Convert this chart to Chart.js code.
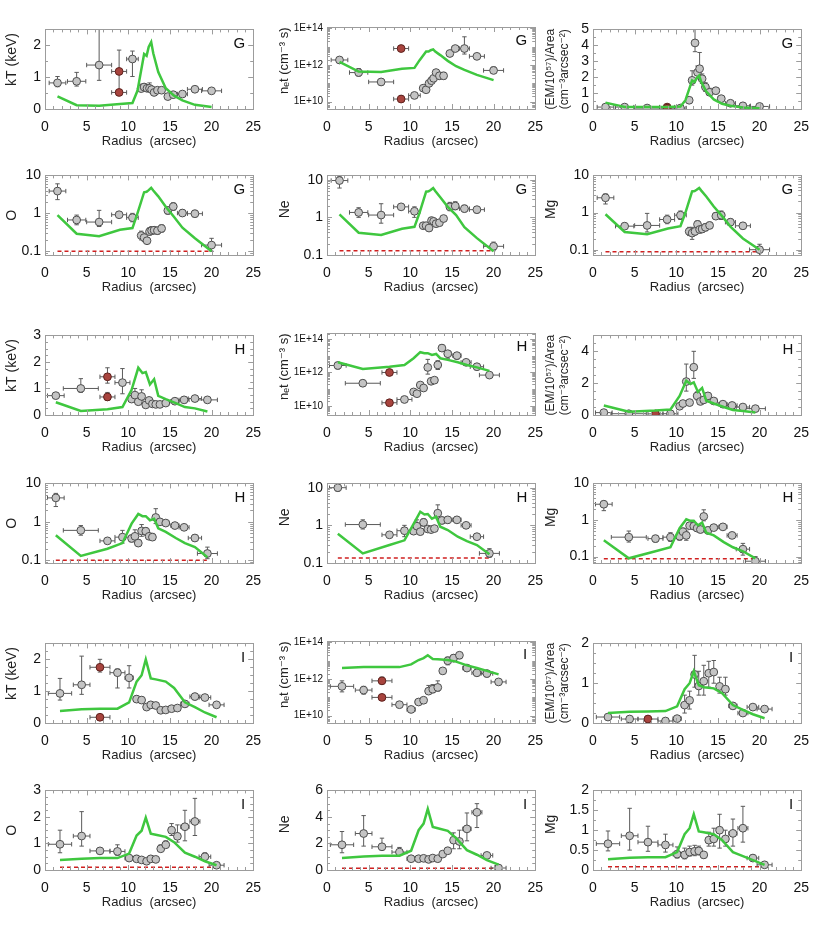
<!DOCTYPE html>
<html>
<head>
<meta charset="utf-8">
<script src="https://cdn.jsdelivr.net/npm/chart.js@4.4.1/dist/chart.umd.min.js"></script>
<style>
  body { margin: 0; background: #fff; }
  #fig { position: relative; width: 830px; height: 939px; }
  #fig canvas { position: absolute; }
</style>
</head>
<body>
<div id="fig"></div>
<script>
// ---------- shared axis values ----------
const radiusTicks = [0, 5, 10, 15, 20, 25];
const netTicks = [1e10, 1e12, 1e14];
const abundTicks = [0.1, 1, 10];

// ---------- region G ----------
const G_radius = [1.5, 3.8, 6.5, 8.9, 10.5, 11.55, 11.9, 12.25, 12.55, 12.8, 13.1, 13.5, 14.0, 14.75, 15.4, 16.5, 18.0, 20.0];
const G_halfWidth = [1.0, 1.1, 1.5, 0.9, 0.7, 0.2, 0.2, 0.15, 0.15, 0.15, 0.2, 0.2, 0.3, 0.35, 0.4, 0.6, 0.9, 1.2];
const G_kT = [0.82, 0.87, 1.38, null, 1.57, 0.64, 0.69, 0.65, 0.65, 0.61, 0.52, 0.59, 0.59, 0.39, 0.45, 0.47, 0.62, 0.57];
const G_kT_err = [[0.70,1.02],[0.72,1.15],[0.90,2.50],null,[1.02,1.82],[0.55,0.78],[0.58,0.80],[0.55,0.75],[0.55,0.82],[0.52,0.70],[0.46,0.60],[0.52,0.66],[0.52,0.66],[0.34,0.45],[0.40,0.50],[0.42,0.52],[0.56,0.68],[0.52,0.62]];
const G_net = [1.9e12, 3.9e11, 1.2e11, null, 2.2e10, 5.5e10, 4.5e10, 1.0e11, 1.4e11, 1.9e11, 3.9e11, 2.6e11, 2.6e11, 4.3e12, 8.0e12, 8.0e12, 3.0e12, 5.1e11];
const G_net_err = [[1.3e12,2.7e12],[2.5e11,6.5e11],[0.8e11,1.7e11],null,[1.8e10,2.6e10],[4.5e10,7e10],[3.5e10,5.5e10],[7e10,1.4e11],[1e11,2.2e11],[1.4e11,2.7e11],[2.8e11,5.5e11],[1.7e11,4e11],[1.7e11,4e11],[3e12,6e12],[5.5e12,1.1e13],[4e12,3.5e13],[2e12,4e12],[3.5e11,8e11]];
const G_EM = [0.12, 0.12, 0.06, null, 0.06, 0.55, 1.8, 4.15, 2.3, 2.53, 1.9, 1.38, 1.05, 1.15, 0.65, 0.36, 0.2, 0.16];
const G_EM_err = [[0.05,0.2],[0.08,0.16],[0.03,0.1],null,[0.03,0.1],[0.4,0.7],[1.5,2.4],[3.6,5.0],[1.9,2.7],[2.2,3.55],[1.6,2.2],[1.1,1.65],[0.85,1.3],[0.95,1.35],[0.55,0.78],[0.3,0.42],[0.15,0.25],[0.12,0.2]];
const G_O = [3.86, 0.67, 0.59, 0.92, 0.77, 0.26, 0.23, 0.19, 0.33, 0.35, 0.36, 0.35, 0.40, 1.19, 1.51, 1.02, 0.98, 0.146];
const G_O_err = [[2.3,6.0],[0.5,0.9],[0.45,1.2],[0.8,1.05],[0.6,1.0],[0.2,0.34],[0.18,0.29],[0.16,0.23],[0.27,0.42],[0.28,0.45],[0.29,0.44],[0.28,0.43],[0.32,0.5],[0.95,1.5],[1.2,1.9],[0.85,1.25],[0.8,1.2],[0.1,0.22]];
const G_Ne = [9.5, 1.35, 1.15, 1.9, 1.45, 0.6, 0.6, 0.52, 0.82, 0.78, 0.68, 0.72, 0.93, 1.9, 2.0, 1.7, 1.6, 0.17];
const G_Ne_err = [[6,12],[1.0,1.8],[0.7,2.3],[1.7,2.1],[1.0,1.9],[0.5,0.72],[0.5,0.72],[0.43,0.62],[0.68,1.0],[0.64,0.95],[0.56,0.82],[0.6,0.87],[0.78,1.1],[1.5,2.5],[1.6,2.6],[1.4,2.1],[1.3,1.9],[0.13,0.22]];
const G_Mg = [2.5, 0.43, 0.45, 0.65, 0.85, 0.31, 0.28, 0.31, 0.48, 0.35, 0.36, 0.40, 0.45, 0.8, 0.85, 0.55, 0.44, 0.1];
const G_Mg_err = [[1.7,3.2],[0.36,0.52],[0.3,0.95],[0.5,0.85],[0.65,1.1],[0.24,0.4],[0.19,0.4],[0.25,0.38],[0.38,0.6],[0.28,0.44],[0.29,0.45],[0.32,0.5],[0.37,0.55],[0.65,1.0],[0.65,1.1],[0.45,0.68],[0.36,0.54],[0.07,0.14]];
// second (hot) component, red points
const G_redRadius = 8.9, G_redHalf = 0.9;
const G_red_kT = [1.18, 0.52], G_red_kT_err = [[0.6,1.85],[0.45,0.6]];
const G_red_net = [8e12, 1.4e10], G_red_net_err = [[5.5e12,1.2e13],[1e10,2.2e10]];
const G_red_EM = [0.12, 0.05], G_red_EM_err = [[0.05,0.2],[0.02,0.08]];
// model (green)
const G_modelR = [1.5, 3.8, 6.5, 9.0, 10.5, 11.1, 11.9, 12.2, 12.45, 12.75, 13.0, 13.6, 14.5, 15.5, 16.5, 18.0, 20.0];
const G_kT_model = [0.40, 0.12, 0.10, 0.16, 0.19, 0.57, 1.73, 1.67, 1.95, 2.10, 1.75, 1.16, 0.65, 0.42, 0.27, 0.13, 0.06];
const G_net_model = [1.5e12, 4.4e11, 4.2e11, 6.3e11, 7.0e11, 1.8e12, 5.5e12, 5.5e12, 6.5e12, 7.2e12, 5.5e12, 3.5e12, 1.7e12, 8.7e11, 5.5e11, 2.9e11, 1.5e11];
const G_EM_model = [0.40, 0.12, 0.12, 0.12, 0.16, 0.55, 1.80, 1.70, 1.94, 2.10, 1.70, 1.10, 0.60, 0.33, 0.20, 0.10, 0.04];
const G_O_model = [0.90, 0.29, 0.25, 0.37, 0.41, 1.00, 3.60, 3.70, 4.10, 4.70, 4.00, 2.80, 1.50, 0.80, 0.42, 0.22, 0.10];
const G_Ne_model = [1.20, 0.39, 0.34, 0.50, 0.56, 1.30, 4.80, 4.90, 5.30, 6.00, 5.00, 3.40, 1.90, 1.15, 0.55, 0.28, 0.125];
const G_Mg_model = [0.90, 0.30, 0.26, 0.37, 0.43, 1.00, 3.70, 3.80, 4.10, 4.60, 3.90, 2.70, 1.45, 0.80, 0.42, 0.20, 0.10];
const G_floor = { O: 0.1, Ne: 0.13, Mg: 0.088, from: 1.5, to: 20.0 };

// ---------- region H ----------
const H_radius = [1.3, 4.3, 7.5, 9.3, 10.4, 10.8, 11.2, 11.6, 12.1, 12.5, 12.9, 13.3, 13.8, 14.5, 15.6, 16.7, 18.0, 19.5];
const H_halfWidth = [1.0, 2.1, 0.9, 0.9, 0.25, 0.2, 0.2, 0.2, 0.2, 0.2, 0.2, 0.25, 0.3, 0.4, 0.5, 0.6, 0.8, 1.2];
const H_kT = [0.73, 1.0, null, 1.22, 0.6, 0.75, 0.5, 0.7, 0.38, 0.55, 0.42, 0.4, 0.4, 0.45, 0.52, 0.57, 0.62, 0.57];
const H_kT_err = [[0.65,0.8],[0.85,1.37],null,[0.8,1.75],[0.5,0.72],[0.6,1.0],[0.42,0.6],[0.55,0.95],[0.32,0.45],[0.45,0.65],[0.35,0.5],[0.34,0.47],[0.34,0.47],[0.39,0.52],[0.46,0.58],[0.5,0.64],[0.55,0.7],[0.5,0.64]];
const H_net = [2.6e12, 2.3e11, null, 2.5e10, 7e10, 5.5e10, 1.8e11, 1.2e11, 2e12, 3.0e11, 3.5e11, 2.8e12, 2.8e13, 1.3e13, 1.0e13, 4e12, 2.2e12, 7e11];
const H_net_err = [[1.6e12,4e12],[1.5e11,3.5e11],null,[1.8e10,3.5e10],[5e10,1e11],[4e10,8e10],[1.3e11,2.5e11],[0.9e11,1.6e11],[8e11,6e12],[2e11,4.5e11],[2.5e11,5e11],[1.5e12,5e12],[1.8e13,4.5e13],[7e12,2e13],[6e12,1.4e13],[2.8e12,5.5e12],[1.4e12,3.2e12],[5e11,1e12]];
const H_EM = [0.15, 0.08, null, 0.08, 0.55, 0.72, 2.1, 0.78, 3.0, 1.2, 0.85, 0.95, 1.2, 0.88, 0.68, 0.6, 0.5, 0.4];
const H_EM_err = [[0.1,0.2],[0.04,0.12],null,[0.04,0.12],[0.4,0.7],[0.55,0.9],[1.5,3.2],[0.6,0.95],[2.3,4.0],[0.95,1.45],[0.7,1.0],[0.8,1.1],[1.0,1.4],[0.75,1.0],[0.58,0.78],[0.52,0.68],[0.43,0.57],[0.34,0.46]];
const H_O = [4.2, 0.6, 0.32, 0.4, 0.37, 0.42, 0.28, 0.58, 0.57, 0.42, 0.40, 1.3, 1.0, 0.93, 0.8, 0.72, 0.38, 0.15];
const H_O_err = [[2.5,5.5],[0.45,0.8],[0.27,0.38],[0.28,0.6],[0.3,0.45],[0.33,0.62],[0.23,0.34],[0.42,0.85],[0.45,0.7],[0.35,0.5],[0.33,0.5],[0.9,2.2],[0.85,1.2],[0.8,1.1],[0.68,0.95],[0.6,0.85],[0.32,0.46],[0.11,0.22]];
const H_Ne = [10, 1.05, 0.56, 0.72, 0.7, 0.95, 0.68, 1.2, 0.8, 0.77, 0.82, 2.1, 1.35, 1.4, 1.4, 1.0, 0.5, 0.18];
const H_Ne_err = [[8,11],[0.8,1.4],[0.5,0.64],[0.5,1.0],[0.6,0.85],[0.75,1.4],[0.58,0.8],[0.95,1.5],[0.68,0.95],[0.65,0.9],[0.7,0.96],[1.5,3.5],[1.1,1.65],[1.15,1.7],[1.2,1.65],[0.85,1.15],[0.42,0.6],[0.14,0.24]];
const H_Mg = [2.7, 0.34, 0.31, 0.34, 0.36, 0.48, 0.38, 0.7, 0.68, 0.6, 0.55, 1.25, 0.52, 0.62, 0.65, 0.38, 0.16, 0.075];
const H_Mg_err = [[1.8,3.3],[0.25,0.5],[0.25,0.38],[0.26,0.45],[0.28,0.46],[0.38,0.6],[0.28,0.5],[0.58,0.85],[0.56,0.82],[0.5,0.72],[0.45,0.66],[0.95,1.9],[0.42,0.64],[0.52,0.75],[0.55,0.78],[0.32,0.46],[0.11,0.23],[0.055,0.1]];
const H_redRadius = 7.5, H_redHalf = 0.9;
const H_red_kT = [1.44, 0.68], H_red_kT_err = [[1.2,1.78],[0.55,0.85]];
const H_red_net = [1e12, 1.6e10], H_red_net_err = [[7e11,1.4e12],[1.2e10,2.1e10]];
const H_red_EM = [0.07], H_red_EM_err = [[0.03,0.11]];
const H_modelR = [1.3, 4.3, 7.5, 9.3, 10.4, 11.2, 11.7, 12.1, 12.6, 13.1, 13.6, 14.5, 15.7, 16.8, 18.0, 19.5];
const H_kT_model = [0.48, 0.15, 0.22, 0.30, 0.95, 1.78, 1.58, 1.62, 1.15, 1.35, 0.72, 0.60, 0.45, 0.30, 0.25, 0.13];
const H_net_model = [4.0e12, 1.6e12, 2.2e12, 2.8e12, 7.0e12, 1.6e13, 1.4e13, 1.4e13, 1.1e13, 1.25e13, 7.0e12, 5.6e12, 4.0e12, 2.8e12, 2.0e12, 1.25e12];
const H_EM_model = [0.60, 0.20, 0.28, 0.35, 1.20, 2.15, 1.95, 2.05, 1.45, 1.70, 0.90, 0.72, 0.50, 0.32, 0.25, 0.15];
const H_O_model = [0.45, 0.13, 0.20, 0.28, 0.90, 1.60, 1.40, 1.40, 1.10, 1.20, 0.68, 0.55, 0.38, 0.28, 0.22, 0.12];
const H_Ne_model = [0.60, 0.18, 0.30, 0.40, 1.10, 2.30, 1.95, 2.00, 1.50, 1.70, 0.92, 0.75, 0.50, 0.38, 0.30, 0.17];
const H_Mg_model = [0.28, 0.09, 0.14, 0.18, 0.60, 1.05, 0.95, 0.95, 0.72, 0.85, 0.45, 0.38, 0.25, 0.18, 0.14, 0.09];
const H_floor = { O: 0.1, Ne: 0.135, Mg: 0.088, from: 1.3, to: 19.5 };

// ---------- region I ----------
const I_radius = [1.8, 4.4, 6.6, 8.7, 10.1, 11.0, 11.6, 12.2, 12.7, 13.3, 13.9, 14.5, 15.2, 15.9, 16.8, 18.0, 19.2, 20.6];
const I_halfWidth = [1.4, 1.0, 1.2, 0.9, 0.5, 0.4, 0.3, 0.3, 0.3, 0.3, 0.3, 0.3, 0.35, 0.35, 0.5, 0.6, 0.7, 0.9];
const I_kT = [0.93, 1.2, null, 1.58, 1.42, 0.75, 0.72, 0.5, 0.57, 0.55, 0.4, 0.41, 0.45, 0.47, 0.6, 0.83, 0.8, 0.57];
const I_kT_err = [[0.72,1.4],[0.9,2.1],null,[1.1,1.7],[1.1,1.8],[0.65,0.85],[0.62,0.82],[0.44,0.57],[0.48,0.66],[0.47,0.63],[0.35,0.45],[0.36,0.46],[0.4,0.5],[0.42,0.53],[0.54,0.67],[0.73,0.93],[0.72,0.88],[0.5,0.64]];
const I_net = [4e11, 2.5e11, null, 4e10, 2.2e10, 5.6e10, 7e10, 2.2e11, 2.8e11, 3.5e11, 2.8e12, 1e13, 1.4e13, 2e13, 4e12, 2.2e12, 2e12, 7e11];
const I_net_err = [[2e11,8e11],[1.5e11,4e11],null,[3.2e10,5e10],[1.7e10,2.8e10],[4.5e10,7e10],[5.5e10,9e10],[1.6e11,4.5e11],[1.8e11,5e11],[2.2e11,8e11],[2e12,4e12],[6e12,1.6e13],[9e12,2.2e13],[1.3e13,2.8e13],[2.8e12,5.5e12],[1.5e12,3.2e12],[1.3e12,3e12],[5e11,9e11]];
const I_EM = [0.15, 0.1, null, 0.05, 0.11, 0.45, 0.57, 1.22, 0.93, 1.05, 1.25, 1.28, 0.92, 0.85, 0.43, 0.25, 0.4, 0.35];
const I_EM_err = [[0.1,0.2],[0.06,0.14],null,[0.03,0.08],[0.07,0.16],[0.25,0.7],[0.35,0.8],[0.9,1.7],[0.7,1.3],[0.7,1.45],[0.9,1.55],[1.0,1.57],[0.75,1.15],[0.7,1.15],[0.35,0.5],[0.2,0.3],[0.34,0.46],[0.3,0.4]];
const I_O = [0.97, 1.28, 0.72, 0.7, 0.45, 0.42, 0.38, 0.33, 0.42, 0.4, 0.8, 0.95, 1.5, 1.27, 1.63, 1.83, 0.5, 0.18];
const I_O_err = [[0.65,1.5],[0.9,2.2],[0.65,0.8],[0.55,0.95],[0.38,0.55],[0.35,0.55],[0.3,0.48],[0.27,0.42],[0.35,0.52],[0.33,0.5],[0.7,0.95],[0.85,1.1],[1.3,1.75],[1.05,1.7],[1.1,2.25],[1.3,2.7],[0.42,0.65],[0.13,0.25]];
const I_Ne = [1.9, 2.75, 1.75, 1.35, 0.85, 0.85, 0.88, 0.8, 0.9, 0.85, 1.2, 1.45, 2.25, 2.15, 3.1, 4.35, 1.1, 0.15];
const I_Ne_err = [[1.3,2.9],[1.8,4.1],[1.5,2.4],[1.2,1.7],[0.7,1.0],[0.7,1.0],[0.75,1.05],[0.68,0.95],[0.75,1.05],[0.7,1.0],[1.0,1.4],[1.25,1.7],[1.6,2.8],[1.6,3.0],[2.2,4.3],[3.2,5.0],[0.95,1.3],[0.05,0.3]];
const I_Mg = [0.66, 0.86, 0.7, 0.63, 0.4, 0.38, 0.45, 0.47, 0.48, 0.38, 0.75, 0.78, 1.0, 0.78, 0.92, 1.05, 0.3, 0.13];
const I_Mg_err = [[0.48,0.98],[0.5,1.55],[0.47,1.1],[0.45,0.9],[0.3,0.58],[0.28,0.55],[0.35,0.6],[0.36,0.62],[0.38,0.6],[0.3,0.43],[0.6,0.95],[0.6,1.05],[0.55,1.4],[0.6,1.0],[0.6,1.28],[0.7,1.6],[0.24,0.38],[0.1,0.17]];
const I_redRadius = 6.6, I_redHalf = 1.2;
const I_red_kT = [1.75, 0.18], I_red_kT_err = [[1.6,2.0],[0.14,0.22]];
const I_red_net = [8e11, 1e11], I_red_net_err = [[5.5e11,1.3e12],[8e10,1.3e11]];
const I_red_EM = [0.1], I_red_EM_err = [[0.06,0.14]];
const I_modelR = [1.8, 4.4, 6.6, 8.7, 10.1, 11.0, 11.6, 12.1, 12.7, 13.3, 14.5, 15.5, 16.8, 18.0, 19.2, 20.6];
const I_kT_model = [0.38, 0.43, 0.45, 0.45, 0.65, 1.30, 1.50, 2.00, 1.40, 1.37, 1.30, 1.10, 0.65, 0.50, 0.33, 0.18];
const I_net_model = [4e12, 4.5e12, 4.5e12, 4.5e12, 6.3e12, 1.1e13, 1.4e13, 2e13, 1.25e13, 1.2e13, 1.1e13, 9e12, 5.6e12, 4e12, 2.8e12, 1.8e12];
const I_EM_model = [0.25, 0.28, 0.29, 0.30, 0.42, 0.85, 1.00, 1.30, 0.95, 0.90, 0.87, 0.75, 0.45, 0.33, 0.22, 0.12];
const I_O_model = [0.38, 0.42, 0.45, 0.45, 0.62, 1.30, 1.48, 1.97, 1.37, 1.33, 1.25, 1.05, 0.65, 0.50, 0.33, 0.18];
const I_Ne_model = [0.90, 1.02, 1.07, 1.08, 1.45, 3.00, 3.50, 4.60, 3.25, 3.15, 2.95, 2.40, 1.50, 1.15, 0.75, 0.40];
const I_Mg_model = [0.27, 0.31, 0.32, 0.32, 0.45, 0.90, 1.05, 1.40, 0.97, 0.95, 0.90, 0.75, 0.45, 0.35, 0.25, 0.13];
const I_floor = { O: 0.1, Ne: 0.13, Mg: 0.08, from: 1.8, to: 20.6 };

// ---------- layout ----------
const FONT = "'Liberation Sans', Arial, 'DejaVu Sans', sans-serif";
const BOX_W = 214, BOX_H = 84, PAD_TOP = 8, PAD_RIGHT = 12, X_AXIS_H = 43;
const colLeft = [45, 327, 593];
const rowTop = [25, 171, 331, 479, 639, 786];
const yAxisW = [45, 50, 52];
const yTitlePad = [4, 0, 2];
const fig = document.getElementById('fig');

const pts = (r, half, v, err) =>
  r.map((x, i) => v[i] == null ? null : { x, y: v[i], lo: err[i][0], hi: err[i][1], h: half[i] }).filter(Boolean);
const redPts = (r, h, v, err) => pts(v.map(() => r), v.map(() => h), v, err);
const sci = v => '1E+' + Math.round(Math.log10(v));

// error bars drawn under each point set
const errorBars = {
  id: 'errorBars',
  beforeDatasetDraw(chart, args) {
    const ds = chart.data.datasets[args.index];
    if (!ds.errorBars) return;
    const { ctx, chartArea: a, scales: { x, y } } = chart;
    ctx.save();
    ctx.beginPath();
    ctx.rect(a.left, a.top, a.width, a.height);
    ctx.clip();
    ctx.strokeStyle = '#5a5a5a';
    ctx.lineWidth = 1;
    ctx.beginPath();
    const c = 2.2;
    for (const d of ds.data) {
      const px = x.getPixelForValue(d.x), py = y.getPixelForValue(d.y);
      const x0 = x.getPixelForValue(d.x - d.h), x1 = x.getPixelForValue(d.x + d.h);
      const y0 = y.getPixelForValue(d.lo), y1 = y.getPixelForValue(d.hi);
      ctx.moveTo(x0, py); ctx.lineTo(x1, py);
      ctx.moveTo(x0, py - c); ctx.lineTo(x0, py + c);
      ctx.moveTo(x1, py - c); ctx.lineTo(x1, py + c);
      ctx.moveTo(px, y0); ctx.lineTo(px, y1);
      ctx.moveTo(px - c, y0); ctx.lineTo(px + c, y0);
      ctx.moveTo(px - c, y1); ctx.lineTo(px + c, y1);
    }
    ctx.stroke();
    ctx.restore();
  }
};

function panel(row, col, cfg) {
  const w = yAxisW[col] + BOX_W + PAD_RIGHT, h = PAD_TOP + BOX_H + X_AXIS_H;
  const cv = document.createElement('canvas');
  cv.width = w; cv.height = h;
  cv.style.left = (colLeft[col] - yAxisW[col]) + 'px';
  cv.style.top = (rowTop[row] - PAD_TOP) + 'px';
  cv.style.width = w + 'px'; cv.style.height = h + 'px';
  fig.appendChild(cv);

  // minor tick positions for the frame
  const yMinor = [];
  if (cfg.log) {
    for (let k = Math.floor(Math.log10(cfg.min)); k <= Math.ceil(Math.log10(cfg.max)); k++)
      for (let m = 1; m < 10; m++) { const v = m * Math.pow(10, k); if (v >= cfg.min && v <= cfg.max) yMinor.push(v); }
  } else {
    for (let v = cfg.min; v <= cfg.max + 1e-9; v += cfg.minor) yMinor.push(v);
  }

  const frame = {
    id: 'frame',
    afterDraw(chart) {
      const { ctx, chartArea: a, scales: { x, y } } = chart;
      ctx.save();
      ctx.strokeStyle = '#9c9c9c';
      ctx.lineWidth = 1;
      ctx.strokeRect(Math.round(a.left) + 0.5, Math.round(a.top) + 0.5, Math.round(a.width), Math.round(a.height));
      ctx.beginPath();
      for (let v = 0; v <= 25; v++) {
        const px = Math.round(x.getPixelForValue(v)) + 0.5, len = v % 5 === 0 ? 5 : 3;
        ctx.moveTo(px, a.bottom); ctx.lineTo(px, a.bottom - len);
        ctx.moveTo(px, a.top); ctx.lineTo(px, a.top + len);
      }
      const major = new Set(cfg.ticks);
      for (const v of yMinor) {
        const py = Math.round(y.getPixelForValue(v)) + 0.5, len = major.has(v) ? 5 : 3;
        ctx.moveTo(a.left, py); ctx.lineTo(a.left + len, py);
        ctx.moveTo(a.right, py); ctx.lineTo(a.right - len, py);
      }
      ctx.stroke();
      ctx.fillStyle = '#111';
      ctx.font = '15px ' + FONT;
      ctx.textAlign = 'right';
      ctx.textBaseline = 'middle';
      ctx.fillText(cfg.letter, a.right - 8, a.top + 14);
      ctx.restore();
    }
  };

  const datasets = [{
    type: 'line', data: cfg.modelR.map((x, i) => ({ x, y: cfg.model[i] })),
    borderColor: '#3fc73f', borderWidth: 2.5, pointRadius: 0, showLine: true, tension: 0, fill: false
  }];
  if (cfg.red) datasets.push({
    data: cfg.red, errorBars: true, pointRadius: 3.9,
    backgroundColor: '#a8443e', borderColor: '#5e211d', borderWidth: 1
  });
  datasets.push({
    data: cfg.grey, errorBars: true, pointRadius: 3.9,
    backgroundColor: '#c4c4c4', borderColor: '#4d4d4d', borderWidth: 1
  });
  if (cfg.floor) datasets.push({
    type: 'line', data: [{ x: cfg.floor[1], y: cfg.floor[0] }, { x: cfg.floor[2], y: cfg.floor[0] }],
    borderColor: '#d02020', borderDash: [4, 3], borderWidth: 1.5, pointRadius: 0, showLine: true
  });

  new Chart(cv, {
    type: 'scatter',
    data: { datasets },
    options: {
      responsive: false,
      animation: false,
      events: [],
      layout: { padding: { top: PAD_TOP, right: PAD_RIGHT, left: 0, bottom: 0 } },
      plugins: { legend: { display: false }, tooltip: { enabled: false } },
      scales: {
        x: {
          type: 'linear', min: 0, max: 25,
          afterBuildTicks: s => { s.ticks = radiusTicks.map(value => ({ value })); },
          afterFit: s => { s.height = X_AXIS_H; },
          grid: { display: false, drawTicks: false },
          border: { display: false },
          ticks: { font: { family: FONT, size: 14 }, color: '#111', padding: 10, maxRotation: 0, autoSkip: false, callback: v => String(v) },
          title: { display: true, text: 'Radius  (arcsec)', font: { family: FONT, size: 13 }, color: '#222', padding: { top: 0, bottom: 3 } }
        },
        y: {
          type: cfg.log ? 'logarithmic' : 'linear', min: cfg.min, max: cfg.max,
          afterBuildTicks: s => { s.ticks = cfg.ticks.map(value => ({ value })); },
          afterFit: s => { s.width = yAxisW[col]; },
          grid: { display: false, drawTicks: false },
          border: { display: false },
          ticks: { font: { family: FONT, size: cfg.tickSize || 14 }, color: '#111', padding: 4, autoSkip: false, callback: cfg.fmt || (v => String(v)) },
          title: { display: true, text: cfg.title, font: { family: FONT, size: cfg.titleSize || 14 }, color: '#222', padding: { top: yTitlePad[col], bottom: 0 } }
        }
      }
    },
    plugins: [errorBars, frame]
  });
}

const lift = (s, n) => ' '.repeat(n) + s;
const KT = lift('kT (keV)', 5);
const NET = lift('n\u2091t (cm\u207B\u00B3 s)', 4);
const EMT = ['(EM/10\u2075\u2077)/Area', '(cm\u207B\u00B3arcsec\u207B\u00B2)'];

const regions = [
  { L: 'G', r: G_radius, hw: G_halfWidth, rr: G_redRadius, rh: G_redHalf, mR: G_modelR, fl: G_floor,
    kT: [G_kT, G_kT_err, G_red_kT, G_red_kT_err, G_kT_model], net: [G_net, G_net_err, G_red_net, G_red_net_err, G_net_model],
    EM: [G_EM, G_EM_err, G_red_EM, G_red_EM_err, G_EM_model],
    O: [G_O, G_O_err, G_O_model], Ne: [G_Ne, G_Ne_err, G_Ne_model], Mg: [G_Mg, G_Mg_err, G_Mg_model],
    ax: { kT: [0, 2.5, [0, 1, 2], 0.5], net: [4e9, 1.2e14], EM: [0, 5, [0, 1, 2, 3, 4, 5], 0.5],
          O: [0.08, 10], Ne: [0.1, 13], Mg: [0.072, 10] } },
  { L: 'H', r: H_radius, hw: H_halfWidth, rr: H_redRadius, rh: H_redHalf, mR: H_modelR, fl: H_floor,
    kT: [H_kT, H_kT_err, H_red_kT, H_red_kT_err, H_kT_model], net: [H_net, H_net_err, H_red_net, H_red_net_err, H_net_model],
    EM: [H_EM, H_EM_err, H_red_EM, H_red_EM_err, H_EM_model],
    O: [H_O, H_O_err, H_O_model], Ne: [H_Ne, H_Ne_err, H_Ne_model], Mg: [H_Mg, H_Mg_err, H_Mg_model],
    ax: { kT: [0, 3, [0, 1, 2, 3], 0.25], net: [3e9, 2.2e14], EM: [0, 5, [0, 2, 4], 0.5],
          O: [0.085, 10], Ne: [0.1, 13], Mg: [0.067, 10] } },
  { L: 'I', r: I_radius, hw: I_halfWidth, rr: I_redRadius, rh: I_redHalf, mR: I_modelR, fl: I_floor,
    kT: [I_kT, I_kT_err, I_red_kT, I_red_kT_err, I_kT_model], net: [I_net, I_net_err, I_red_net, I_red_net_err, I_net_model],
    EM: [I_EM, I_EM_err, I_red_EM, I_red_EM_err, I_EM_model],
    O: [I_O, I_O_err, I_O_model], Ne: [I_Ne, I_Ne_err, I_Ne_model], Mg: [I_Mg, I_Mg_err, I_Mg_model],
    ax: { kT: [0, 2.5, [0, 1, 2], 0.25], net: [4e9, 1.2e14], EM: [0, 2, [0, 1, 2], 0.25],
          O: [0, 3, [0, 1, 2, 3], 0.25], Ne: [0, 6, [0, 2, 4, 6], 0.5], Mg: [0, 2, [0, 0.5, 1, 1.5, 2], 0.25] } }
];

regions.forEach((g, k) => {
  const top = k * 2, bot = k * 2 + 1;
  // temperature, ionisation age, emission measure
  [['kT', KT], ['net', NET], ['EM', EMT]].forEach(([q, title], col) => {
    const [v, e, rv, re, m] = g[q];
    const a = g.ax[q];
    const base = { letter: g.L, title, modelR: g.mR, model: m,
      grey: pts(g.r, g.hw, v, e), red: redPts(g.rr, g.rh, rv, re) };
    if (q === 'net') Object.assign(base, { log: true, min: a[0], max: a[1], ticks: netTicks, fmt: sci, tickSize: 10, titleSize: 13 });
    else Object.assign(base, { min: a[0], max: a[1], ticks: a[2], minor: a[3] });
    if (q === 'EM') base.titleSize = 12;
    panel(top, col, base);
  });
  // abundances
  [['O', 0], ['Ne', 3], ['Mg', 3]].forEach(([q, n], col) => {
    const [v, e, m] = g[q];
    const a = g.ax[q];
    const base = { letter: g.L, title: lift(q, n), modelR: g.mR, model: m,
      grey: pts(g.r, g.hw, v, e), floor: [g.fl[q], g.fl.from, g.fl.to] };
    if (a.length === 2) Object.assign(base, { log: true, min: a[0], max: a[1], ticks: abundTicks });
    else Object.assign(base, { min: a[0], max: a[1], ticks: a[2], minor: a[3] });
    panel(bot, col, base);
  });
});
</script>
</body>
</html>
